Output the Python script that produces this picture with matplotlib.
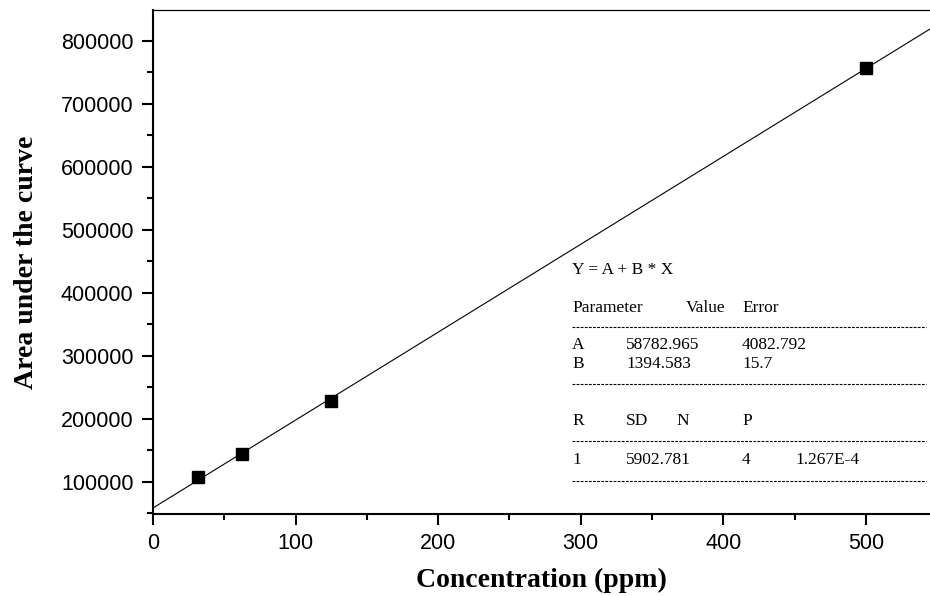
import matplotlib.pyplot as plt
import numpy as np
from matplotlib.lines import Line2D
from matplotlib.ticker import MultipleLocator

# calibration data
conc = [31.25, 62.5, 125, 500]
area = [108000, 144000, 229000, 757000]

# fit parameters (Y = A + B * X)
A = 58782.965
B = 1394.583

fig = plt.figure(figsize=(9.3, 5.96), dpi=100)
ax = fig.add_axes([153 / 930, 1 - 514 / 596, 1 - 153 / 930, (514 - 10) / 596])

xfit = np.linspace(0, 545, 200)
ax.plot(xfit, A + B * xfit, color='black', lw=0.8)
ax.plot(conc, area, 's', color='black', markersize=8)

ax.set_xlim(0, 545)
ax.set_ylim(49200, 849000)
ax.xaxis.set_major_locator(MultipleLocator(100))
ax.xaxis.set_minor_locator(MultipleLocator(50))
ax.yaxis.set_major_locator(MultipleLocator(100000))
ax.yaxis.set_minor_locator(MultipleLocator(50000))

ax.spines['right'].set_visible(False)
ax.spines['left'].set_linewidth(1.5)
ax.spines['bottom'].set_linewidth(1.5)
ax.spines['top'].set_linewidth(0.9)
ax.tick_params(which='major', direction='out', length=8, width=1.5, labelsize=15.5,
               top=False, right=False)
ax.tick_params(which='minor', direction='out', length=4.5, width=1.5, top=False, right=False)
ax.tick_params(axis='y', which='major', pad=6)
ax.tick_params(axis='x', which='major', pad=6)
for lab in ax.get_xticklabels() + ax.get_yticklabels():
    lab.set_family('Liberation Sans')

ax.set_xlabel('Concentration (ppm)', family='Liberation Serif', fontweight='bold', fontsize=20, labelpad=10)
ax.set_ylabel('Area under the curve', family='Liberation Serif', fontweight='bold', fontsize=20, labelpad=16)


def ftext(x, y, s):
    fig.text(x / 930, 1 - y / 596, s, family='Liberation Serif', fontsize=12.5, va='center', ha='left')


def fdash(y):
    fig.add_artist(Line2D([572 / 930, 926 / 930], [1 - y / 596, 1 - y / 596], transform=fig.transFigure,
                          color='black', lw=0.8, dashes=(2.5, 1.2)))


ftext(572, 270, 'Y = A + B * X')
ftext(572, 308, 'Parameter')
ftext(686, 308, 'Value')
ftext(742, 308, 'Error')
fdash(327)
ftext(572, 345, 'A')
ftext(626, 345, '58782.965')
ftext(742, 345, '4082.792')
ftext(572, 364, 'B')
ftext(626, 364, '1394.583')
ftext(742, 364, '15.7')
fdash(384)
ftext(572, 421, 'R')
ftext(626, 421, 'SD')
ftext(676, 421, 'N')
ftext(742, 421, 'P')
fdash(441)
ftext(572, 460, '1')
ftext(626, 460, '5902.781')
ftext(742, 460, '4')
ftext(795, 460, '1.267E-4')
fdash(481)

fig.savefig('out.png', dpi=100)
